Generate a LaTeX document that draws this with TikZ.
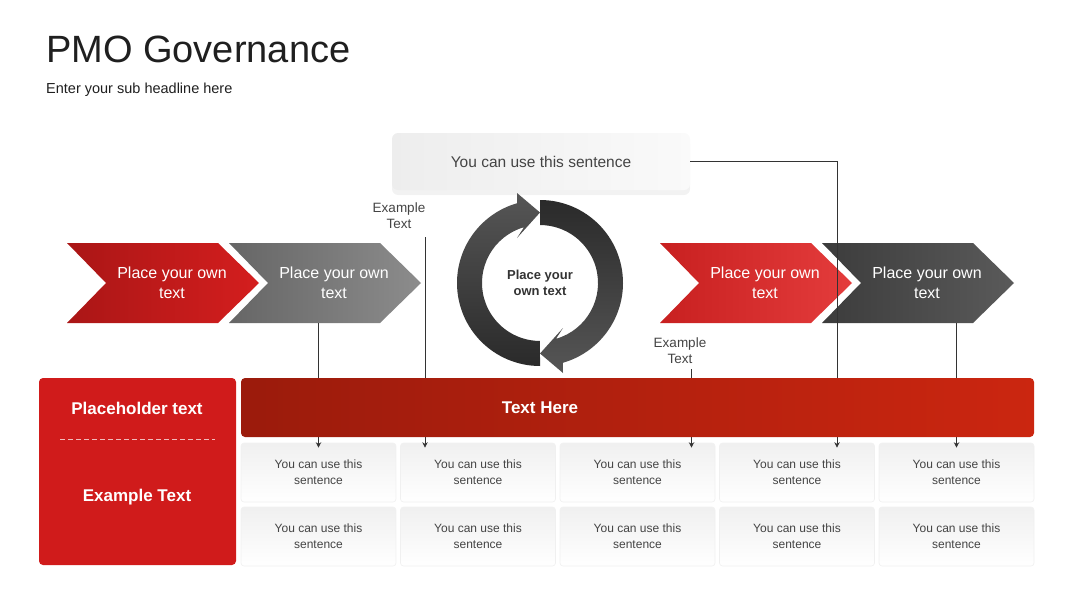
\documentclass[tikz,border=0pt]{standalone}
\usepackage{fontspec}
\setmainfont{Liberation Sans}
\usetikzlibrary{arrows.meta, shadows}

\begin{document}
\begin{tikzpicture}[x=1pt, y=-1pt, >={Stealth[length=5.5pt, width=5.5pt]}, font=\fontsize{12}{16}\selectfont]
    \definecolor{ink}{RGB}{31, 31, 31}
    \definecolor{txt}{RGB}{68, 68, 68}
    \definecolor{redDk}{RGB}{170, 22, 22}  % first chevron
    \definecolor{redLt}{RGB}{212, 30, 30}
    \definecolor{greyDk}{RGB}{102, 102, 102} % second chevron
    \definecolor{greyLt}{RGB}{140, 140, 140}
    \definecolor{redB}{RGB}{200, 32, 32}   % third chevron
    \definecolor{redBl}{RGB}{228, 60, 60}
    \definecolor{darkA}{RGB}{60, 60, 60}   % fourth chevron
    \definecolor{darkB}{RGB}{90, 90, 90}
    \definecolor{ringDk}{RGB}{42, 42, 42}
    \definecolor{ringLt}{RGB}{86, 86, 86}
    \definecolor{barL}{RGB}{155, 27, 12}
    \definecolor{barR}{RGB}{203, 38, 16}
    \definecolor{sideR}{RGB}{208, 27, 27}

    \tikzset{
        chevtext/.style={text=white, align=center, minimum width=150pt, minimum height=80pt, font=\fontsize{16}{20}\selectfont},
        cell/.style={draw=black!6, line width=0.6pt, top color=black!6, bottom color=white, rounded corners=3pt, minimum width=155pt, minimum height=59pt, align=center, text=txt},
        conn/.style={->, draw=black!80, line width=0.8pt, shorten >=-5pt},
        exlbl/.style={align=center, text=txt, inner sep=1pt, font=\fontsize{13.5}{16}\selectfont},
        boldtxt/.style={text=white, font=\bfseries\fontsize{17}{20}\selectfont}
    }
    \useasboundingbox (0,0) rectangle (1080,608);

    % Title
    \node[anchor=base west, inner sep=0pt, text=ink, font=\fontsize{38}{44}\selectfont] (title) at (46,62) {PMO Governance};
    \node[anchor=base west, inner sep=0pt, text=ink, font=\fontsize{14.5}{17}\selectfont] (sub) at (46,93) {Enter your sub headline here};

    % Top box
    \node[minimum width=298pt, minimum height=57pt, rounded corners=6pt, left color=black!7, right color=black!2,
          drop shadow={opacity=0.1, shadow xshift=0pt, shadow yshift=-5pt}, text=txt,
          font=\fontsize{15.5}{18}\selectfont] (top) at (541,161.5) {You can use this sentence};

    % Chevrons
    \foreach \x/\ca/\cb/\n in {67/redDk/redLt/chA, 229/greyDk/greyLt/chB, 660/redB/redBl/chC, 822/darkA/darkB/chD} {
        \shade[left color=\ca, right color=\cb] (\x,243) -- ++(151,0) -- ++(41,40) -- ++(-41,40) -- ++(-151,0) -- ++(39,-40) -- cycle;
        \node[chevtext] (\n) at (\x+105,283) {Place your own\\text};
    }

    % Cycle arrows
    \shade[top color=ringLt, bottom color=ringDk] (540,366) arc[start angle=90, end angle=254, radius=83]
        -- (517,193) -- (540,212.5) -- (517,238) -- (524,227.2) arc[start angle=254, end angle=90, radius=58] -- cycle;
    \shade[top color=ringDk, bottom color=ringLt] (540,200) arc[start angle=270, end angle=434, radius=83]
        -- (563,373) -- (540,353.5) -- (563,328) -- (556,338.8) arc[start angle=434, end angle=270, radius=58] -- cycle;
    \node[align=center, text=black!80, font=\bfseries\fontsize{13}{16}\selectfont] (ring) at (540,283) {Place your\\own text};

    % Labels
    \node[exlbl] (exA) at (399,216) {Example\\Text};
    \node[exlbl] (exB) at (680,351) {Example\\Text};
    \coordinate (tapA) at (425,237);
    \coordinate (tapB) at (691.5,369);

    % Cells
    \foreach \i in {1,...,5} {
        \node[cell] (r1c\i) at ({159+159.5*\i},472.5) {You can use this\\sentence};
        \node[cell] (r2c\i) at ({159+159.5*\i},536.5) {You can use this\\sentence};
    }

    % Connectors
    \draw[conn] (chB.south -| r1c1.north) -- (r1c1.north);
    \draw[conn] (tapA) -- (tapA |- r1c2.north);
    \draw[conn] (tapB) -- (tapB |- r1c3.north);
    \draw[conn] (top.east) -| ([xshift=40pt]r1c4.north);
    \draw[conn] (chD.south -| r1c5.north) -- (r1c5.north);

    % Header bar
    \node[minimum width=793pt, minimum height=59pt, rounded corners=4pt, left color=barL, right color=barR] (bar) at (637.5,407.5) {};
    \node[text=white, font=\bfseries\fontsize{17}{20}\selectfont] (barT) at (540,407.5) {Text Here};

    % Side panel
    \node[minimum width=197pt, minimum height=187pt, rounded corners=4pt, fill=sideR] (side) at (137.5,471.5) {};
    \node[boldtxt] (sideA) at (137,408) {Placeholder text};
    \node[boldtxt] (sideB) at (137,497) {Example Text};
    \draw[white!70!sideR, dash pattern=on 5pt off 3pt, line width=1pt] (60,439) -- (215,439);
\end{tikzpicture}
\end{document}
